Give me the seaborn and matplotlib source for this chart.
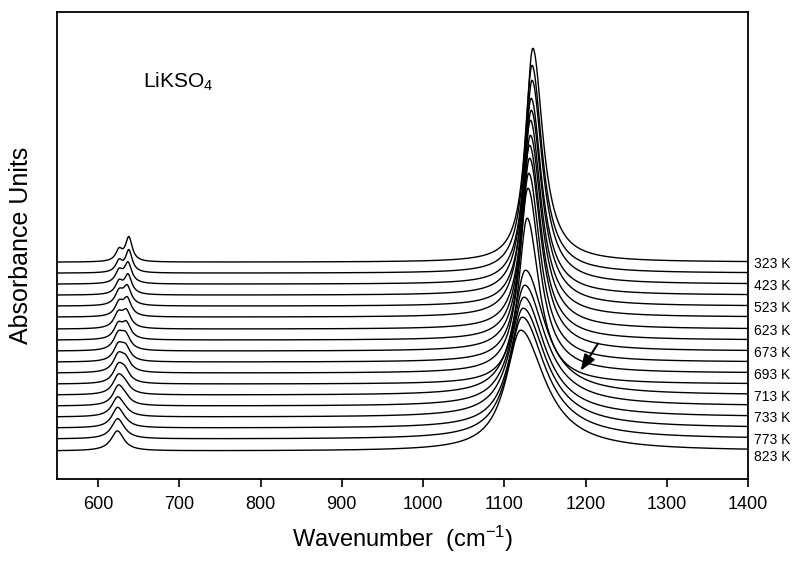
import numpy as np
import pandas as pd
import matplotlib
matplotlib.use("Agg")
import matplotlib.pyplot as plt
import seaborn as sns

# temperatures (K), top curve first
temps = [323, 373, 423, 473, 523, 573, 623, 648, 673, 683, 693, 703,
         713, 723, 733, 753, 773, 823]
labelled = [323, 423, 523, 623, 673, 693, 713, 733, 773, 823]

# vertical offset of each spectrum (absorbance units)
offsets = [2.17, 2.06, 1.95, 1.84, 1.73, 1.62, 1.50, 1.39, 1.28, 1.17, 1.06, 0.95,
           0.84, 0.73, 0.62, 0.51, 0.40, 0.28]

# nu3 band (~1130 cm-1): centre, height, left / right half widths
nu3_pos = [1135, 1134, 1134, 1133, 1133, 1132, 1132, 1131, 1131, 1130, 1129, 1128,
           1126, 1125, 1124, 1123, 1122, 1120]
nu3_amp = [2.14, 2.08, 2.04, 1.97, 1.96, 1.97, 1.94, 1.95, 1.93, 1.89, 1.85, 1.66,
           1.25, 1.21, 1.20, 1.20, 1.22, 1.21]
nu3_wl = [11, 11, 11, 11.5, 11.5, 12, 12, 12, 12.5, 12.5, 13, 13,
          18, 19, 20, 20, 21, 22]
nu3_wr = [15, 15, 15.5, 15.5, 16, 16, 16.5, 16.5, 17, 17, 17.5, 18,
          28, 30, 31, 33, 34, 36]

# nu4 doublet (~625 / 637 cm-1)
nu4a_pos = [638, 638, 637, 637, 636, 636, 635, 635, 634, 634, 634, 633,
            633, 633, 632, 632, 631, 631]
nu4a_amp = [0.24, 0.22, 0.20, 0.19, 0.18, 0.17, 0.16, 0.15, 0.14, 0.13, 0.12, 0.11,
            0.08, 0.06, 0.04, 0.03, 0.02, 0.00]
nu4b_pos = [626, 626, 626, 626, 626, 626, 625, 625, 625, 625, 625, 625,
            625, 625, 624, 624, 624, 624]
nu4b_amp = [0.11, 0.11, 0.12, 0.12, 0.13, 0.13, 0.14, 0.14, 0.15, 0.15, 0.16, 0.16,
            0.17, 0.18, 0.18, 0.19, 0.19, 0.20]
nu4_w = [5, 5, 5.5, 5.5, 6, 6, 6.5, 6.5, 7, 7, 7.5, 7.5,
         8, 8, 8.5, 8.5, 9, 9.5]


def lorentz(x, c, h, w):
    return h / (1 + ((x - c) / w) ** 2)


wn = np.linspace(550, 1400, 1701)
rows = []
for i, T in enumerate(temps):
    w3 = np.where(wn < nu3_pos[i], nu3_wl[i], nu3_wr[i])
    a = (offsets[i]
         + lorentz(wn, nu3_pos[i], nu3_amp[i], w3)
         + lorentz(wn, nu4a_pos[i], nu4a_amp[i], nu4_w[i])
         + lorentz(wn, nu4b_pos[i], nu4b_amp[i], nu4_w[i]))
    rows.append(pd.DataFrame({"wn": wn, "A": a, "T": T}))
df = pd.concat(rows, ignore_index=True)

sns.set_theme(style="white")
plt.rcParams["font.family"] = ["Liberation Sans", "DejaVu Sans"]
plt.rcParams["mathtext.default"] = "regular"
plt.rcParams["text.color"] = "black"
plt.rcParams["axes.labelcolor"] = "black"

fig = plt.figure(figsize=(7.96, 5.61), dpi=100)
ax = fig.add_axes([0.072, 0.146, 0.868, 0.832])

sns.lineplot(data=df, x="wn", y="A", units="T", estimator=None,
             color="black", linewidth=1.0, ax=ax, legend=False)

ax.set_xlim(550, 1400)
ax.set_ylim(0, 4.67)
ax.set_xticks(range(600, 1401, 100))
ax.set_yticks([])
ax.tick_params(axis="x", direction="out", length=6, width=1.2,
               labelsize=13, colors="black", bottom=True, pad=6)
for s in ax.spines.values():
    s.set_color("black")
    s.set_linewidth(1.3)

ax.set_xlabel("Wavenumber  (cm$^{-1}$)", fontsize=17, labelpad=8)
ax.set_ylabel("Absorbance Units", fontsize=18)
ax.yaxis.set_label_coords(-0.035, 0.5)

ax.text(655, 3.97, "LiKSO$_4$", fontsize=15, va="center")

# temperature labels at the right end of each labelled curve
for i, T in enumerate(temps):
    if T in labelled:
        yend = df[(df["T"] == T)]["A"].iloc[-1]
        dy = -4 if T == 823 else 0
        ax.annotate(f"{T} K", xy=(1.0, yend), xycoords=("axes fraction", "data"),
                    xytext=(4, dy - 2), textcoords="offset points",
                    fontsize=10, va="center", ha="left", annotation_clip=False)

ax.annotate("", xy=(1192, 1.06), xytext=(1217, 1.38),
            arrowprops=dict(arrowstyle="-|>,head_length=0.8,head_width=0.3",
                            color="black", lw=1.5))

fig.savefig("out.png", dpi=100)
